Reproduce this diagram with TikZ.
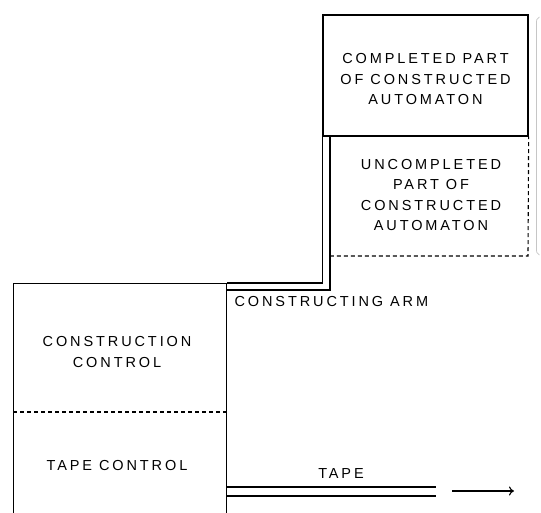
\documentclass[tikz,border=0pt]{standalone}
\usepackage{fontspec}
\setmainfont{Liberation Sans}[LetterSpace=20]
\usetikzlibrary{arrows.meta, positioning, calc}

\begin{document}
\begin{tikzpicture}[x=1pt, y=-1pt,
  box/.style={draw, line width=1.3pt, inner sep=0pt},
  lbl/.style={font=\fontsize{14.5}{20.5}\selectfont, align=center},
  thin/.style={line width=1.3pt},
  thick arm/.style={line width=2.4pt},
  part/.style={line width=1.1pt, dash pattern=on 4pt off 3pt},
]
  \useasboundingbox (0,0) rectangle (541,513);
  \clip (0,0) rectangle (541,513);

  % constructed automaton
  \node[box, minimum width=205pt, minimum height=121pt] (cpart) at (425.5,75.5) {};
  \node[lbl] (cpartlbl) at (425.5,79.5) {COMPLETED PART\\OF CONSTRUCTED\\AUTOMATON};
  \node[lbl] (upart) at (431,195) {UNCOMPLETED\\PART OF\\CONSTRUCTED\\AUTOMATON};
  \coordinate (armtop) at ($(cpart.south west)+(7.5,0)$);
  \coordinate (ucorner) at (528,256);
  \draw[part] (armtop |- ucorner) -- (ucorner) -- (cpart.south east);

  % constructing automaton
  \node[box, minimum width=213pt, minimum height=250pt, anchor=north west] (ctrl) at (13,283) {};
  \node[lbl] (cclbl) at (117,352) {CONSTRUCTION\\CONTROL};
  \node[lbl] (tclbl) at (117,466) {TAPE CONTROL};
  \draw[part] (ctrl.west |- 0,412) -- (ctrl.east |- 0,412);

  % constructing arm
  \coordinate (armfoot) at ($(ctrl.north east)+(0,7)$);
  \draw[thin] (cpart.south west) |- (ctrl.north east);
  \draw[thick arm] (armtop) |- (armfoot);
  \node[lbl, anchor=west] (armlbl) at (231,302) {CONSTRUCTING ARM};

  % tape
  \coordinate (tapeend) at (436,0);
  \draw[thin] (ctrl.east |- 0,487) -- (tapeend |- 0,487);
  \draw[thin] (ctrl.east |- 0,496) -- (tapeend |- 0,496);
  \node[lbl] (tapelbl) at (341,474) {TAPE};
  \coordinate (arrowstart) at (452,491);
  \coordinate (arrowend) at (514,491);
  \draw[line width=1.1pt, -{To[length=5pt, width=9pt]}] (arrowstart) -- (arrowend);

  % bracket at the right
  \draw[gray!45, line width=0.7pt] (539.5,17) .. controls (536.5,19) .. (536.5,24)
    -- (536.5,248) .. controls (536.5,253) .. (539.5,255);
\end{tikzpicture}
\end{document}
